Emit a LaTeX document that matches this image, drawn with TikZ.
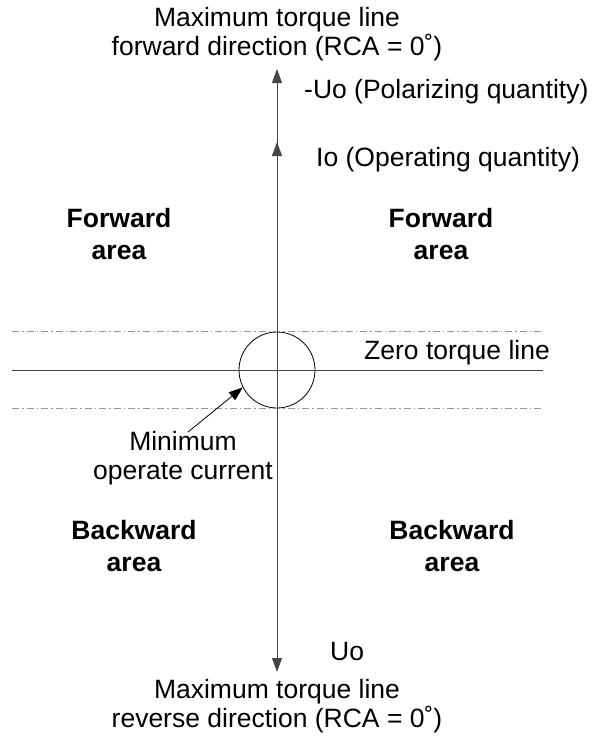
\documentclass[tikz,border=0pt]{standalone}
\usepackage{fontspec}
\setmainfont{Liberation Sans}
\usepackage{tikz}
\usetikzlibrary{arrows.meta, positioning}
\definecolor{axisgray}{RGB}{70, 70, 70}
\definecolor{dashgray}{RGB}{150, 150, 150}

\begin{document}
\begin{tikzpicture}[
      x=1pt, y=-1pt,
      every node/.style={font=\fontsize{26.5}{29.5}\selectfont, inner sep=0pt},
      lbl/.style={align=center},
      areabox/.style={align=center, font=\fontsize{26.5}{31.5}\selectfont\bfseries},
      axis/.style={draw=axisgray, line width=1pt},
      vec/.style={axis, -{Triangle[length=14pt, width=10pt]}},
      guide/.style={draw=dashgray, line width=1pt, dash pattern=on 7pt off 3pt on 1.5pt off 3pt}
    ]
      \path[use as bounding box] (0,0) rectangle (592,742);

      \coordinate (org) at (277,370);
      \coordinate (pol) at (277,69);
      \coordinate (op) at (277,142);
      \coordinate (rev) at (277,672);
      \coordinate (zl) at (12,370);
      \coordinate (zr) at (543,370);

      \node (circ) [circle, draw=black, line width=0.8pt, minimum size=76pt] at (org) {};

      \draw[guide] (zl |- circ.north) -- (zr |- circ.north);
      \draw[guide] (zl |- circ.south) -- (zr |- circ.south);
      \draw[axis] (zl) -- (zr);
      \draw[vec] (org) -- (pol);
      \draw[vec] (org) -- (op);
      \draw[vec] (org) -- (rev);

      \node (fwdtitle) [lbl] at (277,34) {Maximum torque line\\forward direction (RCA = 0˚)};
      \node (polq) [anchor=west] at (304,92) {-Uo (Polarizing quantity)};
      \node (opq) [anchor=west] at (316,160) {Io (Operating quantity)};
      \node (fwdl) [areabox] at (119,234) {Forward\\area};
      \node (fwdr) [areabox] at (441,234) {Forward\\area};
      \node (zero) [anchor=east] at (550,353) {Zero torque line};
      \node (minop) [lbl] at (183,458) {Minimum\\operate current};
      \node (bwdl) [areabox] at (134,546) {Backward\\area};
      \node (bwdr) [areabox] at (452,546) {Backward\\area};
      \node (uo) [anchor=west] at (330,652) {Uo};
      \node (revtitle) [lbl] at (277,706) {Maximum torque line\\reverse direction (RCA = 0˚)};

      \coordinate (mstart) at (188,432);
      \draw[vec, draw=black, line width=0.8pt] (mstart) -- (circ.207);
    \end{tikzpicture}
\end{document}
